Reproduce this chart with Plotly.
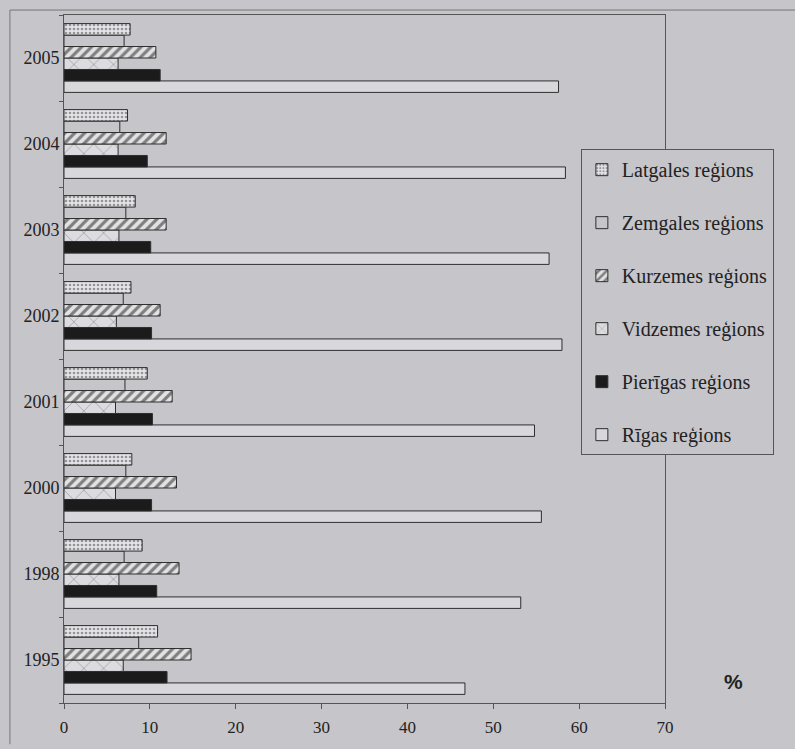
import plotly.graph_objects as go

years = ["1995", "1998", "2000", "2001", "2002", "2003", "2004", "2005"]

latgales = [10.9, 9.1, 7.9, 9.7, 7.8, 8.3, 7.4, 7.7]
zemgales = [8.7, 7.0, 7.2, 7.1, 6.9, 7.2, 6.5, 7.0]
kurzemes = [14.8, 13.4, 13.1, 12.6, 11.2, 11.9, 11.9, 10.7]
vidzemes = [6.9, 6.4, 6.0, 6.0, 6.1, 6.4, 6.3, 6.3]
pierigas = [12.0, 10.8, 10.2, 10.3, 10.2, 10.1, 9.7, 11.2]
rigas = [46.7, 53.2, 55.6, 54.8, 58.0, 56.5, 58.4, 57.6]

x_ticks = [0, 10, 20, 30, 40, 50, 60, 70]

BG = "#c6c5ca"
EDGE = "#2e2e2e"
line = dict(color=EDGE, width=1)

fig = go.Figure()

# first trace sits at the bottom of each group (horizontal bars)
fig.add_trace(go.Bar(
    y=years, x=rigas, orientation="h", name="Rīgas reģions", legendgroup="g6",
    legendrank=6, marker=dict(color="#d8d7db", line=line)))
fig.add_trace(go.Bar(
    y=years, x=pierigas, orientation="h", name="Pierīgas reģions", legendgroup="g5",
    legendrank=5, marker=dict(color="#1b1b1b", line=line)))
fig.add_trace(go.Bar(
    y=years, x=vidzemes, orientation="h", name="Vidzemes reģions", legendgroup="g4",
    legendrank=4,
    marker=dict(color="#dcdbe0", line=line,
                pattern=dict(shape="x", fgcolor="#333333", bgcolor="#dcdbe0",
                             size=14, solidity=0.08))))
fig.add_trace(go.Bar(
    y=years, x=kurzemes, orientation="h", name="Kurzemes reģions", legendgroup="g3",
    legendrank=3,
    marker=dict(color="#e2e2e5", line=line,
                pattern=dict(shape="/", fgcolor="#1a1a1a", bgcolor="#e2e2e5",
                             size=7, solidity=0.45))))
fig.add_trace(go.Bar(
    y=years, x=zemgales, orientation="h", name="Zemgales reģions", legendgroup="g2",
    legendrank=2, marker=dict(color=BG, line=line)))
fig.add_trace(go.Bar(
    y=years, x=latgales, orientation="h", name="Latgales reģions", legendgroup="g1",
    legendrank=1,
    marker=dict(color="#e4e3e7", line=line,
                pattern=dict(shape=".", fgcolor="#444444", bgcolor="#e4e3e7",
                             size=4, solidity=0.35))))

fig.update_layout(
    width=795, height=749,
    margin=dict(l=64, r=130, t=15, b=38),
    paper_bgcolor=BG, plot_bgcolor=BG,
    barmode="group", bargap=0.2, bargroupgap=0,
    font=dict(family="Liberation Serif", size=15, color="#222222"),
    showlegend=True,
    legend=dict(
        x=0.86, y=0.805, xanchor="left", yanchor="top",
        traceorder="grouped", tracegroupgap=24,
        bgcolor=BG, bordercolor="#555555", borderwidth=1,
        font=dict(family="Liberation Serif", size=20, color="#222222"),
        itemwidth=30,
    ),
    xaxis=dict(
        range=[0, 70], tickvals=x_ticks, ticktext=[str(v) for v in x_ticks],
        showgrid=False, zeroline=False, showline=True, mirror=True,
        linecolor="#555555", linewidth=1, ticks="outside", ticklen=5,
        tickcolor="#555555", ticklabelstandoff=4,
        tickfont=dict(family="Liberation Serif", size=17)),
    yaxis=dict(
        categoryorder="array", categoryarray=years,
        showgrid=False, zeroline=False, showline=True, mirror=True,
        linecolor="#555555", linewidth=1, ticks="outside", ticklen=4,
        tickson="boundaries", tickcolor="#555555",
        tickfont=dict(family="Liberation Serif", size=18)),
    annotations=[dict(
        text="<b>%</b>", xref="paper", yref="paper", x=1.133, y=0.011,
        showarrow=False, font=dict(family="Liberation Sans", size=21, color="#222222"))],
    shapes=[
        dict(type="line", xref="paper", yref="paper", x0=-0.09, x1=1.3,
             y0=1.0072, y1=1.0072, line=dict(color="#777777", width=1)),
        dict(type="line", xref="paper", yref="paper", x0=-0.09, x1=-0.09,
             y0=1.0072, y1=-0.06, line=dict(color="#777777", width=1)),
    ],
)

fig.write_html(
    "out.html",
    config={"displayModeBar": False},
    post_script="document.body.style.margin='0';document.body.style.background='%s';" % BG,
)
